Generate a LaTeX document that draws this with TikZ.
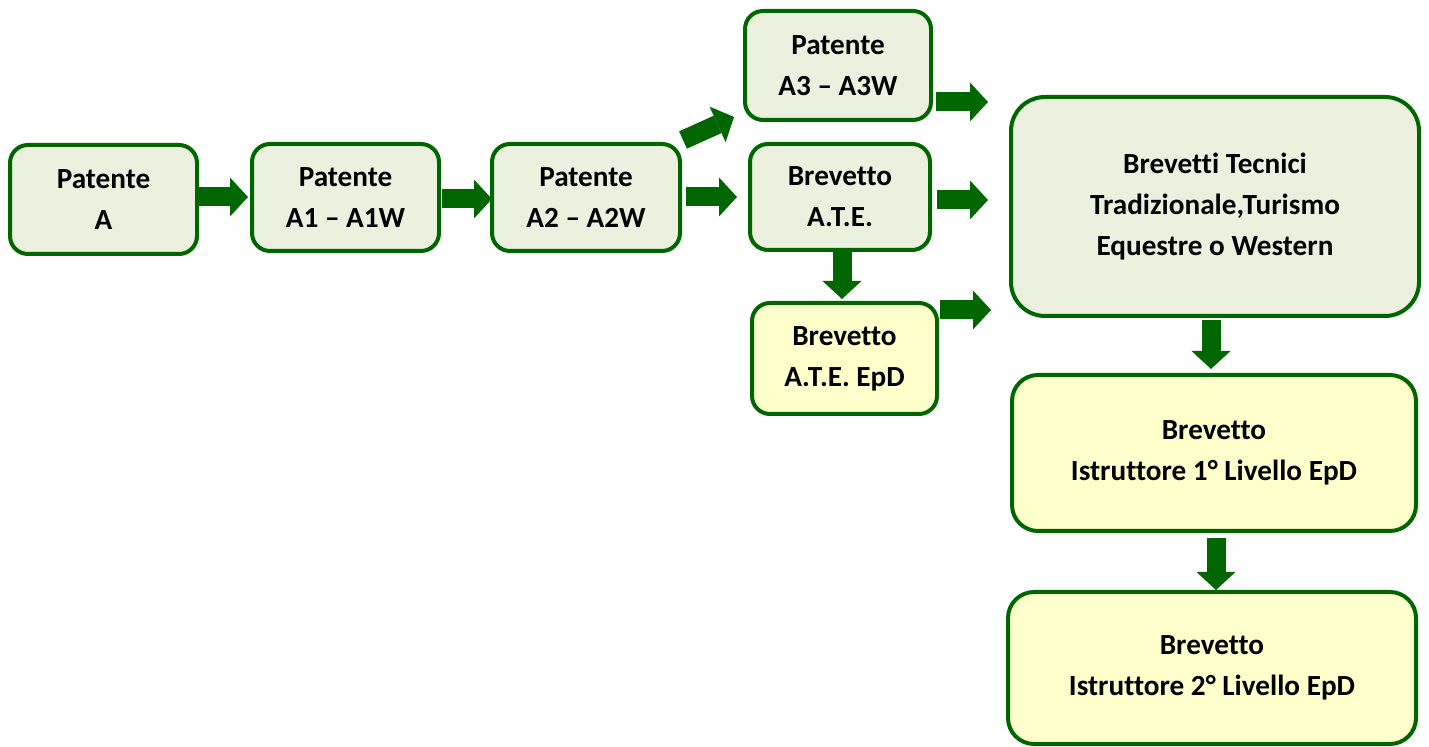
\documentclass[tikz,border=0pt]{standalone}
\usepackage{fontspec}
\setmainfont{Carlito}[Ligatures=NoCommon]
\usetikzlibrary{arrows.meta,calc}
\definecolor{bordergreen}{RGB}{0,102,0}
\definecolor{arrowgreen}{RGB}{0,102,0}
\definecolor{lightgreen}{RGB}{235,241,222}
\definecolor{lightyellow}{RGB}{255,255,204}
\tikzset{
  box/.style={draw=bordergreen, line width=2pt, rounded corners=9pt, align=center,
    inner sep=0pt, font=\bfseries\fontsize{14.6}{20.6}\selectfont, text=black,
    execute at begin node={\rule{0pt}{12.2pt}}},
  gbox/.style={box, fill=lightgreen},
  ybox/.style={box, fill=lightyellow},
  blk/.style={draw=arrowgreen, line width=9.5pt,
    -{Triangle[length=9pt,width=19.5pt,line width=0pt,fill=arrowgreen]}},
}
\begin{document}
\begin{tikzpicture}[x=0.5pt,y=-0.5pt]
\useasboundingbox (0,0) rectangle (1429,747);
% boxes
\node[gbox, minimum width=93.5pt, minimum height=54.5pt] (PA) at (103.5,199.5) {Patente\\A};
\node[gbox, minimum width=93.5pt, minimum height=53.5pt] (A1) at (345.5,197.5) {Patente\\A1 – A1W};
\node[gbox, minimum width=94pt, minimum height=53.5pt] (A2) at (586,197.5) {Patente\\A2 – A2W};
\node[gbox, minimum width=93pt, minimum height=54.5pt] (A3) at (838,65.5) {Patente\\A3 – A3W};
\node[gbox, minimum width=90pt, minimum height=53pt] (ATE) at (840,197) {Brevetto\\A.T.E.};
\node[ybox, minimum width=92.5pt, minimum height=55.5pt] (EPD) at (844.5,358.5) {Brevetto\\A.T.E. EpD};
\node[gbox, execute at begin node={}, rounded corners=17pt, minimum width=204pt, minimum height=109.5pt] (BT) at (1215,206.5)
  {Brevetti Tecnici\\Tradizionale,Turismo\\Equestre o Western};
\node[ybox, rounded corners=13pt, minimum width=202pt, minimum height=78pt] (I1) at (1214,453)
  {Brevetto\\Istruttore 1° Livello EpD};
\node[ybox, rounded corners=13pt, minimum width=204pt, minimum height=76pt] (I2) at (1212,668)
  {Brevetto\\Istruttore 2° Livello EpD};
% arrows
\draw[blk] (PA.east |- 0,197) -- ($(A1.west |- 0,197)+(-2,0)$);
\draw[blk] ($(A1.east |- 0,199)+(1,0)$) -- ($(A2.west |- 0,199)+(2,0)$);
\draw[blk] ($(A2.east |- 0,197)+(4,0)$) -- ($(ATE.west |- 0,197)+(-11,0)$);
\draw[blk] ([shift={(1,-2)}]A2.north east) -- ([shift={(-9,-5)}]A3.south west);
\draw[blk] ($(A3.east |- 0,102)+(3,0)$) -- ($(BT.west |- 0,102)+(-21,0)$);
\draw[blk] ($(ATE.east |- 0,200)+(5,0)$) -- ($(BT.west |- 0,200)+(-21,0)$);
\draw[blk] (ATE.south -| 842,0) -- ($(EPD.north -| 842,0)+(0,-2)$);
\draw[blk] ($(EPD.east |- 0,310)+(1,0)$) -- ($(BT.west |- 0,310)+(-18,0)$);
\draw[blk] ($(BT.south -| 1211,0)+(0,2)$) -- ($(I1.north -| 1211,0)+(0,-4)$);
\draw[blk] ($(I1.south -| 1216,0)+(0,5)$) -- (I2.north -| 1216,0);
\end{tikzpicture}
\end{document}
